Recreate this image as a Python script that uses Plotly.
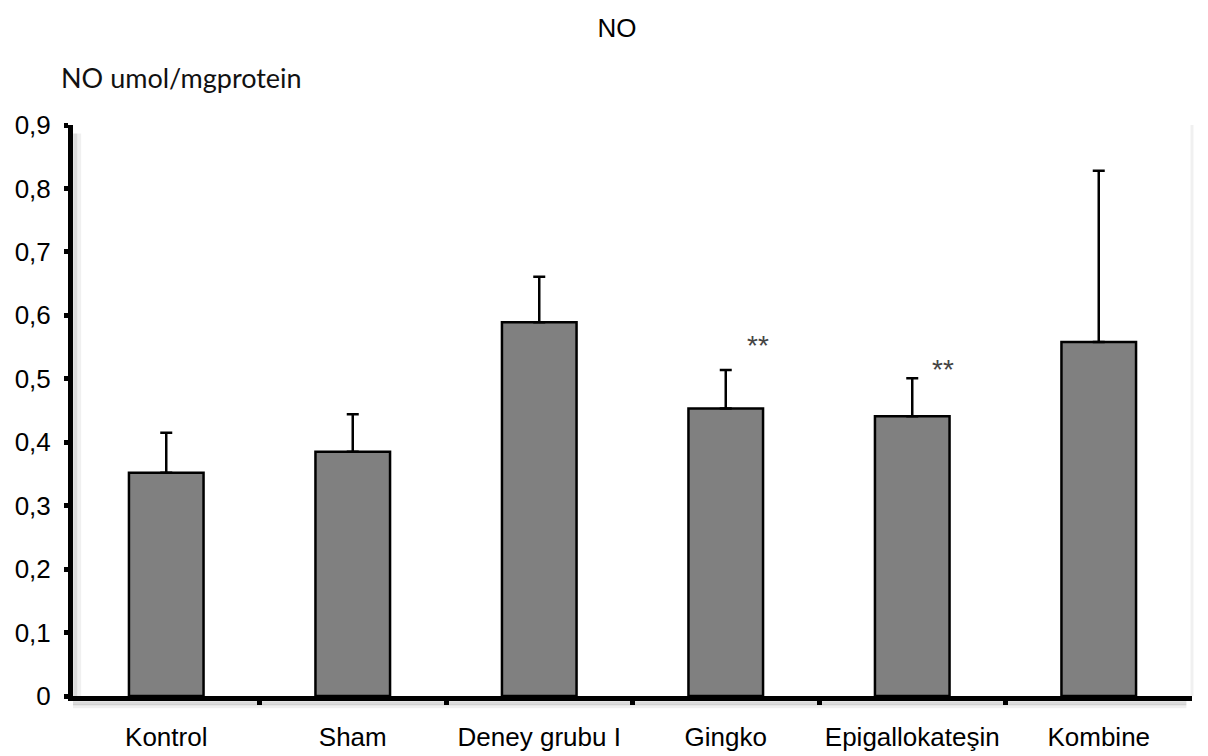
import plotly.graph_objects as go

categories = ["Kontrol", "Sham", "Deney grubu I", "Gingko", "Epigallokateşin", "Kombine"]
means = [0.352, 0.385, 0.589, 0.453, 0.441, 0.558]
upper = [0.415, 0.444, 0.661, 0.514, 0.501, 0.828]
errors = [u - m for u, m in zip(upper, means)]
star_labels = ["**", "**"]
star_x = [3.175, 4.165]
star_y = [0.552, 0.514]

y_ticks = [0, 0.1, 0.2, 0.3, 0.4, 0.5, 0.6, 0.7, 0.8, 0.9]

FONT = "Liberation Sans, Arial, sans-serif"

fig = go.Figure()
fig.add_trace(go.Bar(
    x=list(range(len(categories))), y=means,
    width=0.4,
    marker=dict(color="#808080", line=dict(color="black", width=2.5)),
    error_y=dict(type="data", array=errors, arrayminus=[0] * len(errors),
                 symmetric=False, color="black", thickness=2.5, width=6),
    showlegend=False,
))

for sx, sy, st in zip(star_x, star_y, star_labels):
    fig.add_annotation(x=sx, y=sy, text=st, showarrow=False,
                       font=dict(family=FONT, size=28, color="#444444"))

# soft shadows and faint right border
fig.add_shape(type="line", xref="paper", yref="paper", x0=0.0, x1=0.995, y0=-0.0125, y1=-0.0125,
              line=dict(color="rgba(0,0,0,0.14)", width=4), layer="below")
fig.add_shape(type="line", xref="paper", yref="paper", x0=0.0, x1=0.995, y0=-0.018, y1=-0.018,
              line=dict(color="rgba(0,0,0,0.06)", width=4), layer="below")
fig.add_shape(type="line", xref="paper", yref="paper", x0=0.002, x1=0.002, y0=0.0, y1=0.985,
              line=dict(color="rgba(0,0,0,0.14)", width=4), layer="below")
fig.add_shape(type="line", xref="paper", yref="paper", x0=0.0055, x1=0.0055, y0=0.0, y1=0.985,
              line=dict(color="rgba(0,0,0,0.06)", width=4), layer="below")
fig.add_shape(type="line", xref="paper", yref="paper", x0=1.0, x1=1.0, y0=0, y1=1.0,
              line=dict(color="rgba(0,0,0,0.06)", width=3), layer="below")

fig.update_layout(
    width=1200, height=748,
    margin=dict(l=65, r=16, t=117, b=60),
    paper_bgcolor="white", plot_bgcolor="white",
    separators=",.",
    font=dict(family=FONT, size=26, color="black"),
    title=dict(text="NO", x=0.5075, xanchor="center", y=0.973, yanchor="middle",
               font=dict(family=FONT, size=26, color="black")),
)
fig.add_annotation(text="NO umol/mgprotein", xref="paper", yref="paper",
                   x=-0.0125, y=1.0825, xanchor="left", yanchor="middle",
                   showarrow=False, font=dict(family="Lato, Open Sans, sans-serif", size=27, color="#111111"))

fig.update_xaxes(
    range=[-0.5, 5.5], automargin=False,
    tickmode="array", tickvals=list(range(len(categories))), ticktext=categories,
    showline=True, linecolor="black", linewidth=5,
    ticks="", showgrid=False, zeroline=False,
    ticklabelstandoff=14,
    tickfont=dict(family=FONT, size=26, color="black"),
    minor=dict(tickmode="array", tickvals=[0.5, 1.5, 2.5, 3.5, 4.5],
               ticks="outside", ticklen=4, tickwidth=5, tickcolor="black"),
)
fig.update_yaxes(
    range=[0, 0.9], automargin=False, tickmode="array", tickvals=y_ticks,
    ticktext=[("0" if v == 0 else f"{v:.1f}".replace(".", ",")) for v in y_ticks],
    showline=True, linecolor="black", linewidth=5,
    ticks="outside", ticklen=4, tickwidth=5, tickcolor="black",
    showgrid=False, zeroline=False,
    ticklabelstandoff=8,
    tickfont=dict(family=FONT, size=26, color="black"),
)

fig.write_html("out.html")
